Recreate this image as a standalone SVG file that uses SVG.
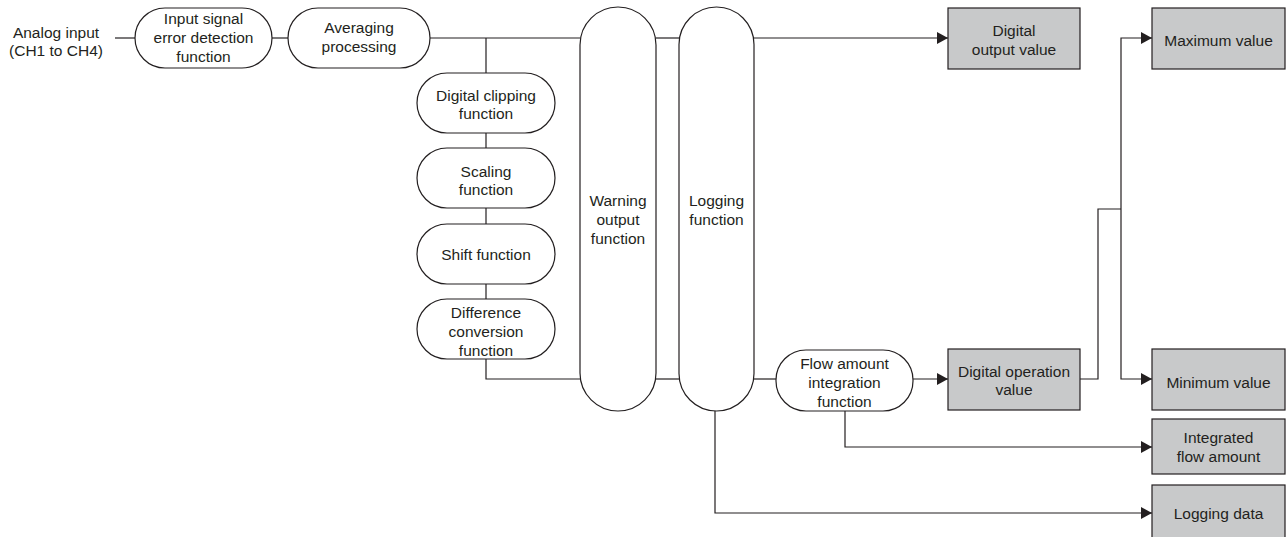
<svg xmlns="http://www.w3.org/2000/svg" width="1286" height="537" viewBox="0 0 1286 537">
<defs>
<marker id="arr" markerWidth="12" markerHeight="12" refX="11" refY="6" orient="auto" markerUnits="userSpaceOnUse">
<path d="M0,0 L11,6 L0,12 Z" fill="#231f20"/>
</marker>
<style>
.t{font-family:"Liberation Sans",Arial,sans-serif;font-size:15.5px;fill:#231f20;text-anchor:middle}
.o{fill:#fff;stroke:#231f20;stroke-width:1.2}
.b{fill:#c8c9ca;stroke:#231f20;stroke-width:1.2}
.c{fill:none;stroke:#231f20;stroke-width:1.2}
.a{fill:none;stroke:#231f20;stroke-width:1.2;marker-end:url(#arr)}
</style>
</defs>
<rect width="1286" height="537" fill="#fff"/>
<g id="connectors">
<path class="c" d="M115,38 H135"/>
<path class="c" d="M272,38 H288"/>
<path class="c" d="M430,38 H580"/>
<path class="c" d="M486,38 V73"/>
<path class="c" d="M486,133 V148"/>
<path class="c" d="M486,208 V224"/>
<path class="c" d="M486,284 V299"/>
<path class="c" d="M486,359 V379 H580"/>
<path class="c" d="M656,38 H679"/>
<path class="c" d="M656,379 H679"/>
<path class="a" d="M754,38 H948"/>
<path class="c" d="M754,379 H776"/>
<path class="a" d="M913,379 H948"/>
<path class="c" d="M1080,379 H1098 V209 H1121"/>
<path class="a" d="M1121,209 V38 H1152"/>
<path class="a" d="M1121,209 V379 H1152"/>
<path class="a" d="M845,411 V447 H1152"/>
<path class="a" d="M715,411 V513 H1152"/>
</g>
<g id="analog-input">
<text class="t" x="56" y="38">Analog input</text>
<text class="t" x="56" y="56">(CH1 to CH4)</text>
</g>
<g id="input-signal">
<rect class="o" x="135" y="8" width="137" height="60" rx="30"/>
<text class="t" x="203.5" y="23.5">Input signal</text>
<text class="t" x="203.5" y="42.5">error detection</text>
<text class="t" x="203.5" y="61.5">function</text>
</g>
<g id="averaging">
<rect class="o" x="288" y="8" width="142" height="60" rx="30"/>
<text class="t" x="359" y="33">Averaging</text>
<text class="t" x="359" y="52">processing</text>
</g>
<g id="digital-clipping">
<rect class="o" x="417" y="73" width="138" height="60" rx="30"/>
<text class="t" x="486" y="100.5">Digital clipping</text>
<text class="t" x="486" y="119">function</text>
</g>
<g id="scaling">
<rect class="o" x="417" y="148" width="138" height="60" rx="30"/>
<text class="t" x="486" y="176.5">Scaling</text>
<text class="t" x="486" y="195">function</text>
</g>
<g id="shift">
<rect class="o" x="417" y="224" width="138" height="60" rx="30"/>
<text class="t" x="486" y="259.5">Shift function</text>
</g>
<g id="difference">
<rect class="o" x="417" y="299" width="138" height="60" rx="30"/>
<text class="t" x="486" y="317.5">Difference</text>
<text class="t" x="486" y="336.5">conversion</text>
<text class="t" x="486" y="355.5">function</text>
</g>
<g id="warning">
<rect class="o" x="580" y="7" width="76" height="404" rx="38"/>
<text class="t" x="618" y="205.5">Warning</text>
<text class="t" x="618" y="224.5">output</text>
<text class="t" x="618" y="243.5">function</text>
</g>
<g id="logging">
<rect class="o" x="679" y="7" width="75" height="404" rx="37.5"/>
<text class="t" x="716.5" y="205.5">Logging</text>
<text class="t" x="716.5" y="224.5">function</text>
</g>
<g id="flow-amount">
<rect class="o" x="776" y="350" width="137" height="61" rx="30"/>
<text class="t" x="844.5" y="368.5">Flow amount</text>
<text class="t" x="844.5" y="387.5">integration</text>
<text class="t" x="844.5" y="406.5">function</text>
</g>
<g id="digital-output">
<rect class="b" x="948" y="8" width="132" height="61"/>
<text class="t" x="1014" y="36">Digital</text>
<text class="t" x="1014" y="55">output value</text>
</g>
<g id="digital-operation">
<rect class="b" x="948" y="349" width="132" height="61"/>
<text class="t" x="1014" y="376.5">Digital operation</text>
<text class="t" x="1014" y="395">value</text>
</g>
<g id="maximum">
<rect class="b" x="1152" y="8" width="133" height="61"/>
<text class="t" x="1218.5" y="45.5">Maximum value</text>
</g>
<g id="minimum">
<rect class="b" x="1152" y="349" width="133" height="61"/>
<text class="t" x="1218.5" y="387.5">Minimum value</text>
</g>
<g id="integrated">
<rect class="b" x="1152" y="419" width="133" height="55"/>
<text class="t" x="1218.5" y="442.5">Integrated</text>
<text class="t" x="1218.5" y="462">flow amount</text>
</g>
<g id="logging-data">
<rect class="b" x="1152" y="485" width="133" height="62"/>
<text class="t" x="1218.5" y="518.5">Logging data</text>
</g>
</svg>
